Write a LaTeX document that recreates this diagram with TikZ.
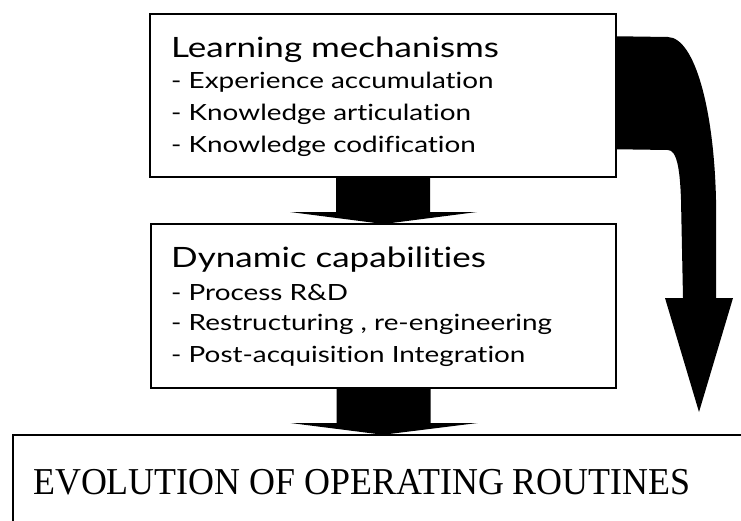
\documentclass[tikz,border=0pt]{standalone}
\usepackage{fontspec}
\setmainfont{Lato}[Ligatures=NoCommon, FakeStretch=1.25]
\newfontfamily\evofont{Liberation Serif}[FakeStretch=0.945]
\usetikzlibrary{calc}
\tikzset{
  box/.style={draw=black, line width=1.5pt, fill=white, inner sep=0pt},
  titletext/.style={anchor=base west, inner sep=0pt, font=\fontsize{28}{32}\selectfont},
  itemtext/.style={anchor=base west, inner sep=0pt, font=\fontsize{22.3}{32}\selectfont},
  bigarrow/.style={fill=black, draw=none},
}
\begin{document}
\begin{tikzpicture}[x=1pt,y=-1pt]
\useasboundingbox (0,0) rectangle (741,520);
\clip (0,0) rectangle (741,520);
% boxes
\node[box, minimum width=466pt, minimum height=163pt] (lm) at (383,95.5) {};
\node[box, minimum width=465pt, minimum height=164pt] (dc) at (383.5,306) {};
\node[box, minimum width=800pt, minimum height=140pt, anchor=north west] (evo) at (12,434) {};
% texts
\node[titletext] (lm0) at (171,57) {Learning mechanisms};
\node[itemtext] (lm1) at (171,88) {- Experience accumulation};
\node[itemtext] (lm2) at (171,120) {- Knowledge articulation};
\node[itemtext] (lm3) at (171,152) {- Knowledge codification};
\node[titletext] (dc0) at (171,267) {Dynamic capabilities};
\node[itemtext] (dc1) at (171,300) {- Process R\&D};
\node[itemtext] (dc2) at (171,330) {- Restructuring , re-engineering};
\node[itemtext] (dc3) at (171,362) {- Post-acquisition Integration};
\node[anchor=base west, inner sep=0pt, font=\evofont\fontsize{38}{42}\selectfont] (evot) at (33,494) {EVOLUTION OF OPERATING ROUTINES};
% straight arrows
\coordinate (a1s) at ($(lm.south)+(0,-0.75)$);
\coordinate (a1t) at ($(dc.north)+(0,0.75)$);
\fill[bigarrow] ($(a1s)+(-47,0)$) -- ($(a1s)+(-47,35)$) -- ($(a1s)+(-93,35)$)
  -- (a1t) -- ($(a1s)+(94,35)$) -- ($(a1s)+(47,35)$) -- ($(a1s)+(47,0)$) -- cycle;
\coordinate (a2s) at ($(dc.south)+(0,-0.75)$);
\coordinate (a2t) at ($(evo.north west)+(371,0.75)$);
\fill[bigarrow] ($(a2s)+(-47,0)$) -- ($(a2s)+(-47,35)$) -- ($(a2s)+(-93,35)$)
  -- (a2t) -- ($(a2s)+(94,35)$) -- ($(a2s)+(47,35)$) -- ($(a2s)+(47,0)$) -- cycle;
% curved arrow
\coordinate (c1) at ($(lm.north east)+(-0.75,23)$);
\coordinate (c2) at ($(lm.north east)+(-0.75,136)$);
\coordinate (ctip) at (699,412);
\fill[bigarrow] (c1) -- (668,37) .. controls (695,38) and (714,110) .. (716,200)
  -- (716,298) -- (733,298) -- (ctip) -- (665,298) -- (683,298) -- (681,200)
  .. controls (680,170) and (677,150) .. (668,150) -- (c2) -- cycle;
\end{tikzpicture}
\end{document}
